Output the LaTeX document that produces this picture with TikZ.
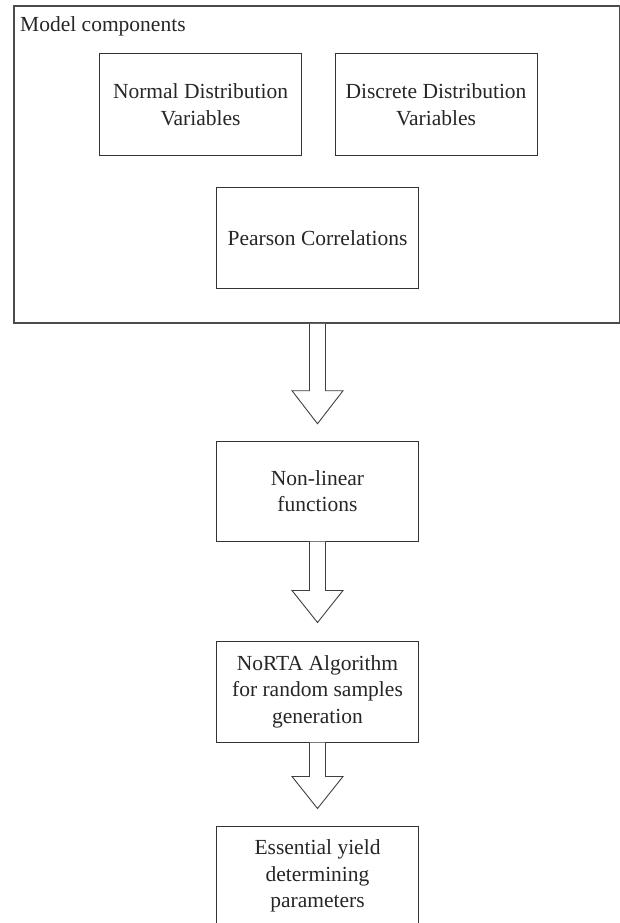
\documentclass[tikz,border=0pt]{standalone}
\usepackage{fontspec}
\setmainfont{Liberation Serif}
\usetikzlibrary{calc}
\newcommand{\hollowarrow}[3]{% #1 start coordinate, #2 shaft length, #3 head length
  \draw[fatarrow] ($#1+(-8,0)$) -- ++(0,-#2) -- ++(-17.5,0) -- ++(25.5,-#3) -- ++(25.5,#3) -- ++(-17.5,0) -- ++(0,#2);}
\begin{document}
\begin{tikzpicture}[x=1pt,y=1pt,
  box/.style={draw=black!80, line width=1pt, minimum width=202pt, minimum height=101pt,
    align=center, inner sep=0pt, font=\fontsize{21.5}{26.5}\selectfont, text=black!85},
  fatarrow/.style={draw=black!75, line width=0.9pt, line join=miter, fill=white},
  lbl/.style={inner sep=0pt, anchor=base west, font=\fontsize{21.5}{26.5}\selectfont, text=black!85}]
\useasboundingbox (0,0) rectangle (620,-923);
\node[draw=black!70, line width=1.5pt, minimum width=606pt, minimum height=317pt, inner sep=0pt] (outer) at (317,-164.5) {};
\node[lbl] (title) at (20,-32) {Model components};
\node[box] (normal) at (200.5,-104.5) {Normal Distribution\\Variables};
\node[box] (discrete) at (436,-104.5) {Discrete Distribution\\Variables};
\node[box] (pearson) at (317.5,-238) {Pearson Correlations};
\node[box, minimum height=100pt] (nl) at (317.5,-491) {Non-linear\\functions};
\node[box] (norta) at (317.5,-691.5) {NoRTA Algorithm\\for random samples\\generation};
\node[box, minimum height=100pt] (ess) at (317.5,-876) {Essential yield\\determining\\parameters};
\hollowarrow{(outer.south -| nl.north)}{67}{33}
\hollowarrow{(nl.south)}{49}{32}
\hollowarrow{(norta.south)}{34}{32}
\end{tikzpicture}
\end{document}
